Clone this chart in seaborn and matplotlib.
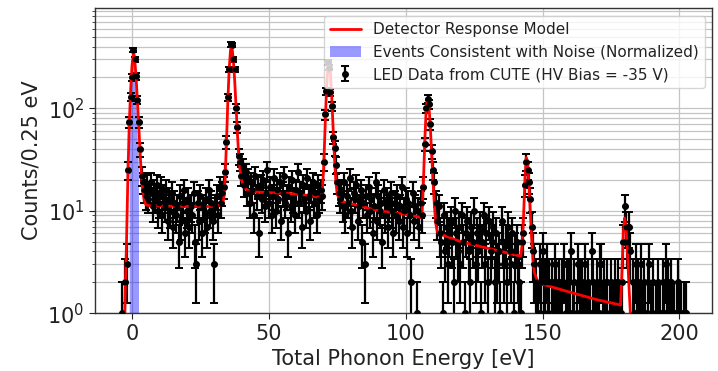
import numpy as np
import pandas as pd
import matplotlib
matplotlib.use("Agg")
import matplotlib.pyplot as plt
import seaborn as sns

# ---- data: LED counts per 0.25 eV bin, sampled every 0.5 eV from -3.5 to 202.5 ----
energy_start, energy_step = -3.5, 0.5
counts = [
    1, 0, 2, 3, 25, 73, 130, 200, 370, 300, 205, 120, 73, 40, 22, 19, 16, 14, 18, 13,      # -3.5 .. 6.0
    15, 19, 11, 16, 13, 18, 10, 12, 17, 9, 14, 11, 16, 8, 13, 10, 15, 7, 12, 9,             # 6.5 .. 16.0
    11, 5, 14, 8, 12, 16, 6, 10, 13, 7, 11, 9, 15, 5, 3, 12, 8, 14, 6, 11,                  # 16.5 .. 26.0
    9, 13, 7, 16, 10, 12, 8, 3, 11, 14, 9, 17, 12, 15, 17, 24, 47, 128, 240, 420,           # 26.5 .. 36.0
    415, 300, 240, 100, 66, 34, 30, 22, 27, 18, 24, 15, 21, 12, 19, 16, 9, 22, 14, 17,     # 36.5 .. 46.0
    6, 18, 13, 20, 11, 15, 25, 12, 17, 9, 14, 21, 10, 16, 13, 19, 8, 15, 22, 12,            # 46.5 .. 56.0
    14, 6, 17, 11, 20, 13, 9, 16, 24, 12, 15, 7, 18, 13, 10, 21, 14, 8, 16, 19,             # 56.5 .. 66.0
    12, 15, 9, 18, 13, 16, 14, 30, 87, 147, 280, 250, 143, 105, 52, 41, 28, 19, 15, 13,     # 66.5 .. 76.0
    16, 11, 19, 9, 14, 12, 21, 10, 7, 15, 13, 18, 8, 11, 16, 5, 12, 3, 14, 9,               # 76.5 .. 86.0
    17, 10, 13, 6, 11, 19, 8, 14, 10, 12, 5, 16, 9, 13, 7, 11, 15, 10, 6, 12,               # 86.5 .. 96.0
    9, 14, 8, 11, 17, 7, 10, 13, 6, 12, 9, 2, 15, 8, 11, 1, 10, 7, 12, 9,                   # 96.5 .. 106.0
    17, 45, 100, 123, 110, 70, 38, 25, 19, 12, 8, 11, 6, 5, 1, 9, 4, 7, 3, 6,               # 106.5 .. 116.0
    8, 5, 2, 10, 6, 4, 7, 3, 9, 5, 1, 6, 8, 4, 2, 7, 5, 10, 3, 6,                           # 116.5 .. 126.0
    4, 7, 1, 5, 9, 3, 6, 2, 8, 4, 5, 7, 2, 6, 3, 4, 1, 8, 5, 3,                             # 126.5 .. 136.0
    5, 2, 7, 4, 3, 6, 1, 4, 5, 3, 2, 1, 5, 6, 18, 30, 25, 19, 13, 7,                        # 136.5 .. 146.0
    4, 3, 2, 0, 1, 3, 2, 4, 1, 2, 3, 1, 2, 0, 2, 1, 3, 2, 1, 2,                             # 146.5 .. 156.0
    1, 2, 0, 3, 1, 2, 2, 1, 4, 1, 2, 0, 1, 3, 2, 1, 2, 1, 3, 1,                             # 156.5 .. 166.0
    2, 1, 1, 4, 2, 1, 0, 2, 1, 3, 3, 1, 2, 1, 2, 0, 1, 2, 1, 1,                             # 166.5 .. 176.0
    2, 1, 2, 1, 1, 2, 5, 11, 7, 5, 7, 4, 0, 2, 1, 3, 1, 2, 1, 3,                            # 176.5 .. 186.0
    1, 2, 1, 0, 2, 3, 1, 1, 2, 0, 1, 2, 1, 1, 0, 2, 1, 3, 1, 2,                             # 186.5 .. 196.0
    1, 2, 1, 1, 0, 1, 2, 1, 1, 0, 1, 1, 1,                                                  # 196.5 .. 202.5
]

# ---- detector response model ----
model_x = [-3.0, -2.5, -2.0, -1.5, -1.0, -0.5, 0.0, 0.5, 0.8, 1.0,
           1.5, 2.0, 2.5, 3.0, 3.5, 4.0, 4.5, 5.0, 6.0, 10.0,
           20.0, 30.0, 33.0, 33.5, 34.0, 34.5, 35.0, 35.5, 36.0, 36.3,
           36.6, 37.0, 37.5, 38.0, 38.5, 39.0, 39.5, 40.0, 41.0, 42.0,
           44.0, 50.0, 60.0, 65.0, 69.0, 69.5, 70.0, 70.5, 71.0, 71.5,
           72.0, 72.5, 73.0, 73.5, 74.0, 74.5, 75.0, 76.0, 80.0, 90.0,
           100.0, 105.5, 106.0, 106.5, 107.0, 107.5, 108.0, 108.5, 109.0, 109.5,
           110.0, 110.5, 111.0, 111.5, 112.0, 120.0, 130.0, 142.0, 142.5, 143.0,
           143.5, 144.0, 144.5, 145.0, 145.5, 146.0, 146.5, 147.0, 148.0, 149.0,
           160.0, 170.0, 178.5, 179.0, 179.5, 180.0, 180.5, 181.0, 181.5, 182.0,
           182.5, 183.0]
model_y = [0.3, 1.5, 5.0, 22.0, 70.0, 150.0, 260.0, 340.0, 330.0, 300.0,
           200.0, 115.0, 65.0, 35.0, 21.0, 15.0, 12.5, 11.5, 11.2, 11.1,
           11.0, 11.0, 11.5, 13.0, 20.0, 45.0, 115.0, 240.0, 370.0, 400.0,
           380.0, 300.0, 190.0, 105.0, 58.0, 34.0, 25.0, 20.0, 17.0, 16.0,
           15.3, 15.0, 14.6, 14.0, 13.5, 15.0, 25.0, 60.0, 140.0, 240.0,
           280.0, 220.0, 125.0, 62.0, 32.0, 19.0, 14.5, 12.5, 11.7, 10.0,
           9.2, 8.6, 10.0, 20.0, 50.0, 100.0, 125.0, 105.0, 65.0, 35.0,
           19.0, 11.0, 7.5, 6.3, 6.0, 5.0, 4.3, 3.6, 4.5, 8.0,
           18.0, 33.0, 30.0, 19.0, 10.0, 5.5, 3.3, 2.5, 2.1, 1.95,
           1.6, 1.35, 1.2, 2.5, 6.0, 8.5, 7.0, 4.0, 2.0, 1.1,
           0.5, 0.2]

# ---- events consistent with noise (normalized) ----
noise_x = [-1.05, -1.0, -0.5, 0.0, 0.3, 0.6, 1.0, 1.5, 2.0, 2.35, 2.4]
noise_y = [0.1, 40.0, 150.0, 330.0, 400.0, 330.0, 220.0, 100.0, 45.0, 25.0, 0.1]

labels = ["Detector Response Model",
          "Events Consistent with Noise (Normalized)",
          "LED Data from CUTE (HV Bias = -35 V)"]

energy = energy_start + energy_step * np.arange(len(counts))
df = pd.DataFrame({"energy": energy, "counts": np.array(counts, dtype=float)})
df = df[df["counts"] > 0]
err = np.sqrt(df["counts"].values)
err_lo = np.minimum(err, df["counts"].values - 1e-3)

model = pd.DataFrame({"energy": model_x, "counts": model_y})

sns.set_style("white")
plt.rcParams["font.family"] = ["DejaVu Sans"]

fig, ax = plt.subplots(figsize=(7.18, 3.71), dpi=100)
fig.subplots_adjust(left=0.132, right=0.992, top=0.978, bottom=0.156)
ax.set_yscale("log")

fill = ax.fill_between(noise_x, 0.1, noise_y, color="blue", alpha=0.4, lw=0,
                       zorder=1, label=labels[1])
eb = ax.errorbar(df["energy"], df["counts"], yerr=[err_lo, err], fmt="o",
                 color="black", ms=4, elinewidth=1.6, capsize=2.8,
                 capthick=1.4, zorder=2, label=labels[2])
sns.lineplot(data=model, x="energy", y="counts", ax=ax, color="red", lw=2,
             estimator=None, sort=False, zorder=3, label=labels[0], legend=False)
sns.scatterplot(data=df, x="energy", y="counts", ax=ax, color="black", s=18,
                edgecolor="black", linewidth=0, zorder=4, legend=False)

ax.set_xlim(-13.6, 212)
ax.set_ylim(1, 950)
ax.set_xticks([0, 50, 100, 150, 200])
ax.grid(True, which="major", axis="both", color="#c4c4c4", lw=0.9)
ax.grid(True, which="minor", axis="y", color="#c4c4c4", lw=0.9)
ax.tick_params(axis="both", which="major", labelsize=15, length=4, width=0.8,
               colors="#222222", direction="out", left=True, bottom=True)
ax.tick_params(axis="y", which="minor", length=2, width=0.6, left=True)
for sp in ax.spines.values():
    sp.set_color("#333333")
    sp.set_linewidth(1.0)
    sp.set_visible(True)

ax.set_xlabel("Total Phonon Energy [eV]", fontsize=15, color="#222222")
ax.set_ylabel("Counts/0.25 eV", fontsize=15, color="#222222")

line_handle = None
for ln in ax.get_lines():
    if ln.get_color() == "red":
        line_handle = ln
leg = ax.legend([line_handle, fill, eb], labels, loc="upper right",
                fontsize=11, frameon=True, framealpha=0.8,
                borderaxespad=0.5, handlelength=2.0)
for t in leg.get_texts():
    t.set_color("#222222")

fig.savefig("out.png", dpi=100)
